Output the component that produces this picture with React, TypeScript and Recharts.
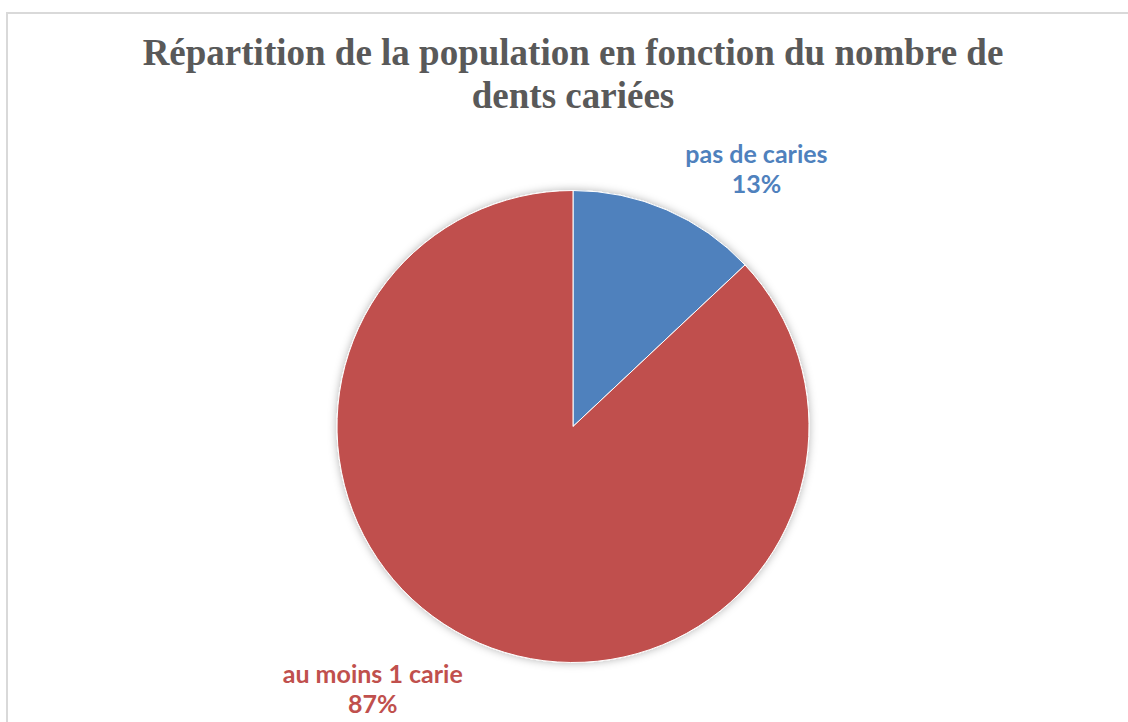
import React from 'react'
import { PieChart, Pie, Cell } from 'recharts'

const CATEGORIES = ['pas de caries', 'au moins 1 carie']
const SHARES = [13, 87]
const COLORS = ['#4F81BD', '#C0504D']

const TITLE_LINES = ['Répartition de la population en fonction du nombre de', 'dents cariées']

const W = 1128
const H = 722
const RAD = Math.PI / 180

// how far out each label sits (× outer radius), Excel "best fit" style
const LABEL_RADIUS = [1.31, 1.43]
const LABEL_SHIFT = -13

function SliceLabel(props: any) {
  const { cx, cy, midAngle, outerRadius, index, name, value } = props
  const r = outerRadius * LABEL_RADIUS[index]
  const a = (midAngle + LABEL_SHIFT) * RAD
  const x = cx + r * Math.cos(-a)
  const y = cy + r * Math.sin(-a)
  const color = COLORS[index]
  return (
    <text
      x={x}
      y={y}
      textAnchor="middle"
      fill={color}
      style={{ fontFamily: 'Lato, "Open Sans", sans-serif', fontWeight: 700, fontSize: 25 }}
    >
      <tspan x={x} dy={-15}>{name}</tspan>
      <tspan x={x} dy={30}>{value}%</tspan>
    </text>
  )
}

export default function App() {
  const data = CATEGORIES.map((name, i) => ({ name, value: SHARES[i] }))

  return (
    <div
      style={{
        position: 'absolute',
        left: 0,
        top: 0,
        width: W,
        height: H,
        overflow: 'hidden',
        background: '#fff',
      }}
    >
      <style>{`.recharts-pie g:has(> .recharts-pie-sector) { filter: url(#pieShadow); }`}</style>
      <div
        style={{
          position: 'absolute',
          left: 6,
          top: 12,
          width: W + 40,
          height: H + 40,
          border: '2px solid #d9d9d9',
        }}
      />
      <div
        style={{
          position: 'absolute',
          left: 0,
          top: 31,
          width: 1146,
          textAlign: 'center',
          fontFamily: '"Liberation Serif", "Times New Roman", serif',
          fontWeight: 700,
          fontSize: 37,
          lineHeight: '43px',
          color: '#595959',
        }}
      >
        {TITLE_LINES.map(t => (
          <div key={t}>{t}</div>
        ))}
      </div>
      <div style={{ position: 'absolute', left: 0, top: 0 }}>
        <PieChart width={W} height={H} margin={{ top: 0, right: 0, bottom: 0, left: 0 }}>
          <defs>
            <filter id="pieShadow" x="-20%" y="-20%" width="140%" height="140%">
              <feDropShadow dx="0" dy="0" stdDeviation="4" floodColor="#000" floodOpacity="0.3" />
            </filter>
          </defs>
          <Pie
            data={data}
            dataKey="value"
            nameKey="name"
            cx={573}
            cy={426.5}
            outerRadius={236}
            startAngle={90}
            endAngle={-270}
            stroke="#ffffff"
            strokeWidth={1}
            label={<SliceLabel />}
            labelLine={false}
            isAnimationActive={false}
          >
            {data.map((_, i) => (
              <Cell key={i} fill={COLORS[i]} />
            ))}
          </Pie>
        </PieChart>
      </div>
    </div>
  )
}
